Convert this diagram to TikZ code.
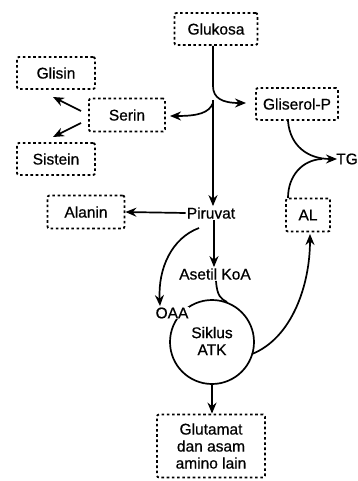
\documentclass[tikz,border=0pt]{standalone}
\usepackage{fontspec}
\setmainfont{Liberation Sans}[FakeBold=0.6]
\usetikzlibrary{arrows.meta}
\tikzset{
  dotbox/.style={draw, line width=1.8pt, dash pattern=on 2.6pt off 2.6pt, rounded corners=2pt, inner sep=0pt},
  lbl/.style={inner sep=1pt, font=\fontsize{15.5}{17}\selectfont},
  arr/.style={line width=1.7pt, -{Stealth[length=11pt,width=9pt]}},
  ln/.style={line width=1.7pt}
}
\begin{document}
\begin{tikzpicture}[x=1pt,y=-1pt]
\useasboundingbox (0,0) rectangle (358,481);
% boxes
\node[dotbox, minimum width=83pt, minimum height=32pt, lbl] (glu) at (216,29) {Glukosa};
\node[dotbox, minimum width=78pt, minimum height=32pt, lbl] (glis) at (56,73) {Glisin};
\node[dotbox, minimum width=76pt, minimum height=33pt, lbl] (ser) at (127,115) {Serin};
\node[dotbox, minimum width=82pt, minimum height=32pt, lbl] (glp) at (297,104) {Gliserol-P};
\node[dotbox, minimum width=78pt, minimum height=32pt, lbl] (sis) at (56,159) {Sistein};
\node[dotbox, minimum width=77pt, minimum height=33pt, lbl] (ala) at (86,212) {Alanin};
\node[dotbox, minimum width=44pt, minimum height=33pt, lbl] (al) at (308,215) {AL};
\node[dotbox, minimum width=108pt, minimum height=63pt, lbl, align=center] (glut) at (211,446) {Glutamat\\dan asam\\amino lain};
% plain texts
\node[lbl] (pir) at (211,213) {Piruvat};
\node[lbl] (tg) at (347,159) {TG};
\node[lbl] (ase) at (215,274) {Asetil KoA};
% cycle
\node[draw, circle, line width=1.7pt, minimum size=84pt, inner sep=0pt] (cyc) at (212,342) {};
\node[lbl, align=center] (atk) at (212,341) {Siklus\\ATK};
\node[lbl, fill=white, inner sep=0.5pt] (oaa) at (172,313) {OAA};
% coordinates
\coordinate (g1) at (213,46);
\coordinate (glpin) at (246,103);
\coordinate (vtop) at (213,100);
\coordinate (serin) at (170,116);
\coordinate (sa) at (81,111);
\coordinate (sb) at (81,123);
\coordinate (glisend) at (53,97);
\coordinate (sisend) at (53,137);
\coordinate (glpout) at (288,121);
\coordinate (tgin) at (337,159);
\coordinate (alout) at (288,198);
\coordinate (merge) at (322,159);
\coordinate (oaain) at (160,306);
\coordinate (pl) at (199,228);
\coordinate (cyctop) at (227,302);
\coordinate (cycr) at (252,354);
\coordinate (alin) at (310,234);
% connectors
\draw[arr] (g1) -- (213,86) .. controls (213,98) and (222,103) .. (glpin);
\draw[arr] (vtop) -- (pir.north -| vtop);
\draw[arr] (213,103) .. controls (209,113) and (198,116) .. (serin);
\draw[arr] (sa) -- (glisend);
\draw[arr] (sb) -- (sisend);
\draw[arr] (glpout) .. controls (290,146) and (308,159) .. (tgin);
\draw[ln] (alout) .. controls (288,176) and (302,160) .. (merge);
\draw[arr] (pir.west) -- (ala.east);
\draw[arr] (pir.south -| 214,0) -- (ase.north -| 214,0);
\draw[arr] (pl) .. controls (172,238) and (158,268) .. (oaain);
\draw[ln] (ase.south -| 216,0) .. controls (217,296) and (221,299) .. (cyctop);
\draw[arr] (cycr) .. controls (292,338) and (310,285) .. (alin);
\draw[arr] (cyc.south) -- (glut.north -| cyc.south);
\end{tikzpicture}
\end{document}
